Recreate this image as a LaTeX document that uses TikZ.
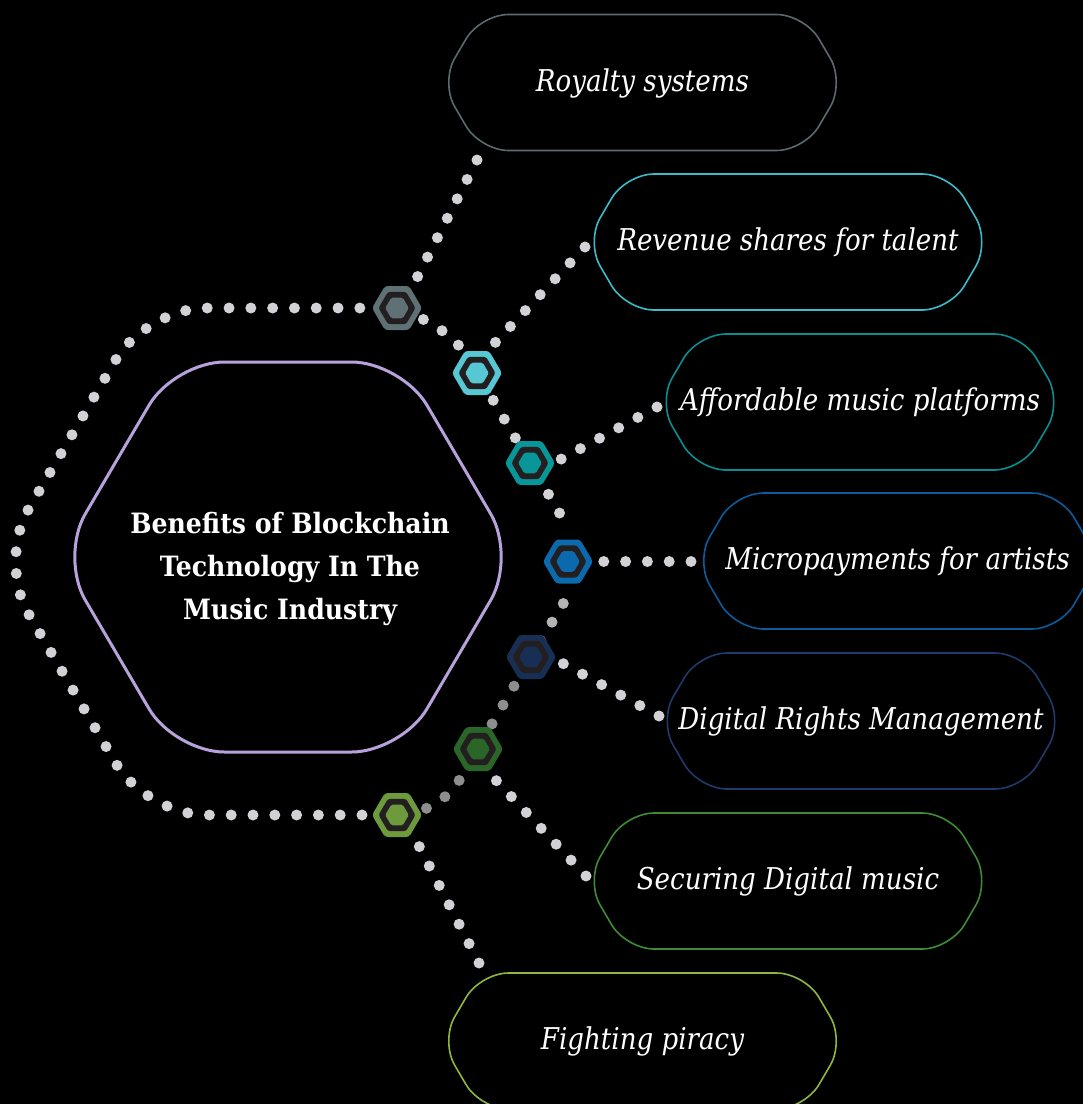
\documentclass[tikz,border=0pt]{standalone}
\usepackage{fontspec}
\setmainfont{DejaVu Serif}
\newfontfamily\lblfont[FakeStretch=0.87]{DejaVu Serif}
\newfontfamily\ttlfont[FakeStretch=0.9]{DejaVu Serif}
\usetikzlibrary{calc}
\definecolor{lavender}{HTML}{B9A2DC}
\definecolor{dotlight}{HTML}{D2D2D6}
\definecolor{dotmid}{HTML}{B4B4B6}
\definecolor{dotdark}{HTML}{8E8E8E}
\definecolor{ringdark}{HTML}{231F20}
\definecolor{mcolA}{HTML}{5F7175}
\definecolor{mcolB}{HTML}{56C7D3}
\definecolor{mcolC}{HTML}{089699}
\definecolor{mcolD}{HTML}{0B6AAE}
\definecolor{mcolE}{HTML}{182F55}
\definecolor{mcolF}{HTML}{2B6629}
\definecolor{mcolG}{HTML}{6D9A3C}
\definecolor{bcolA}{HTML}{5A6A6F}
\definecolor{bcolB}{HTML}{3CBCCB}
\definecolor{bcolC}{HTML}{0A8E92}
\definecolor{bcolD}{HTML}{0A5C9C}
\definecolor{bcolE}{HTML}{1D3B6B}
\definecolor{bcolF}{HTML}{3E8C36}
\definecolor{bcolG}{HTML}{8DB83C}
\tikzset{
  dotline/.style={draw=dotlight, line width=11pt, line cap=round, dash pattern=on 0pt off 21.8pt},
  boxline/.style={line width=1.6pt, rounded corners=28pt},
  lbl/.style={text=white, font=\lblfont\itshape\fontsize{30}{34}\selectfont, anchor=base, inner sep=0pt},
  titletext/.style={text=white, font=\ttlfont\bfseries\fontsize{28}{43}\selectfont, align=center, inner sep=0pt},
}
% #1 options, #2 centre coordinate name, #3 half width, #4 half height
\newcommand{\hexagonpath}[4]{%
  \draw[#1, shift={(#2)}] (0,-#4) -- ({#3-#4/1.705},-#4) -- (#3,0) -- ({#3-#4/1.705},#4)
     -- ({-#3+#4/1.705},#4) -- (-#3,0) -- ({-#3+#4/1.705},-#4) -- cycle;}
\newcommand{\hexmarker}[2]{%
  \hexagonpath{fill=#2, draw=none, rounded corners=3pt}{#1}{25}{22}
  \hexagonpath{fill=ringdark, draw=none, rounded corners=2.5pt}{#1}{18.5}{16.2}
  \hexagonpath{fill=#2, draw=none, rounded corners=1.5pt}{#1}{11.8}{10.3}}
\begin{document}
\begin{tikzpicture}[x=1pt,y=-1pt]
\path[use as bounding box] (0,0) rectangle (1083,1104);
\fill[black] (0,0) rectangle (1083,1104);
\clip (0,0) rectangle (1083,1104);

% outer dotted hexagon vertices
\coordinate (V1) at (146,308);
\coordinate (V2) at (439,308);
\coordinate (V3) at (588,561.5);
\coordinate (V4) at (439,815);
\coordinate (V5) at (146,815);
\coordinate (V6) at (-2,561.5);

% markers
\coordinate (m1) at (397,308);
\coordinate (m2) at (477,373);
\coordinate (m3) at (530,463);
\coordinate (m4) at (568,561.5);
\coordinate (m5) at (531,657);
\coordinate (m6) at (478,749);
\coordinate (m7) at (397,815);

% box centres
\coordinate (c1) at (642.5,82.5);
\coordinate (c2) at (788,242);
\coordinate (c3) at (860,402);
\coordinate (c4) at (897.5,561);
\coordinate (c5) at (861,721);
\coordinate (c6) at (788,881);
\coordinate (c7) at (642.5,1041);

% connector ends
\coordinate (e1) at (477,160);
\coordinate (e2) at (585,247);
\coordinate (e3) at (657,407);
\coordinate (e4) at (691,561.5);
\coordinate (e5) at (659,716);
\coordinate (e6) at (586,876);
\coordinate (e7) at (479,963);
\coordinate (s1) at (397,317);
\coordinate (s2) at (477,362);
\coordinate (s3) at (530,476);
\coordinate (s4) at (568,561.5);
\coordinate (s5) at (531,646);
\coordinate (s6) at (477,760);
\coordinate (s7) at (397,803);

% central hexagon
\coordinate (C) at (288,557);
\hexagonpath{draw=lavender, line width=3pt, rounded corners=50pt}{C}{228}{195}
\node[titletext] (title) at (290,569) {Benefits of Blockchain\\Technology In The\\Music Industry};

% dotted outer ring
\draw[dotline, dash phase=8.6pt, rounded corners=60pt] (m7) -- (V5) -- (V6) -- (V1) -- (V2) -- ($(V3)!40pt!(V2)$);
\draw[dotline, draw=dotdark, dash phase=13.1pt, rounded corners=40pt] (m7) -- (V4) -- (m5);
\draw[dotline, draw=dotmid, dash phase=2.9pt] (m5) -- ($(V3)!45pt!(V4)$);

% connectors
\draw[dotline] (e1) -- (s1);
\draw[dotline] (e2) -- (s2);
\draw[dotline] (e3) -- (s3);
\draw[dotline] (e4) -- (s4);
\draw[dotline] (e5) -- (s5);
\draw[dotline, shorten >=10pt] (e6) -- (s6);
\draw[dotline, shorten >=30pt] (e7) -- (s7);

% boxes
\hexagonpath{boxline, draw=bcolA}{c1}{202}{68}
\hexagonpath{boxline, draw=bcolB}{c2}{202}{68}
\hexagonpath{boxline, draw=bcolC}{c3}{202}{68}
\hexagonpath{boxline, draw=bcolD}{c4}{202}{68}
\hexagonpath{boxline, draw=bcolE}{c5}{202}{68}
\hexagonpath{boxline, draw=bcolF}{c6}{202}{68}
\hexagonpath{boxline, draw=bcolG}{c7}{202}{68}

\node[lbl] (b1) at ($(c1)+(0,8.5)$) {Royalty systems};
\node[lbl] (b2) at ($(c2)+(0,8.5)$) {Revenue shares for talent};
\node[lbl] (b3) at ($(c3)+(0,8.5)$) {Affordable music platforms};
\node[lbl] (b4) at ($(c4)+(0,8.5)$) {Micropayments for artists};
\node[lbl] (b5) at ($(c5)+(0,8.5)$) {Digital Rights Management};
\node[lbl] (b6) at ($(c6)+(0,8.5)$) {Securing Digital music};
\node[lbl] (b7) at ($(c7)+(0,8.5)$) {Fighting piracy};

% markers
\hexmarker{m1}{mcolA}
\hexmarker{m2}{mcolB}
\hexmarker{m3}{mcolC}
\hexmarker{m4}{mcolD}
\hexmarker{m5}{mcolE}
\hexmarker{m6}{mcolF}
\hexmarker{m7}{mcolG}
\end{tikzpicture}
\end{document}
